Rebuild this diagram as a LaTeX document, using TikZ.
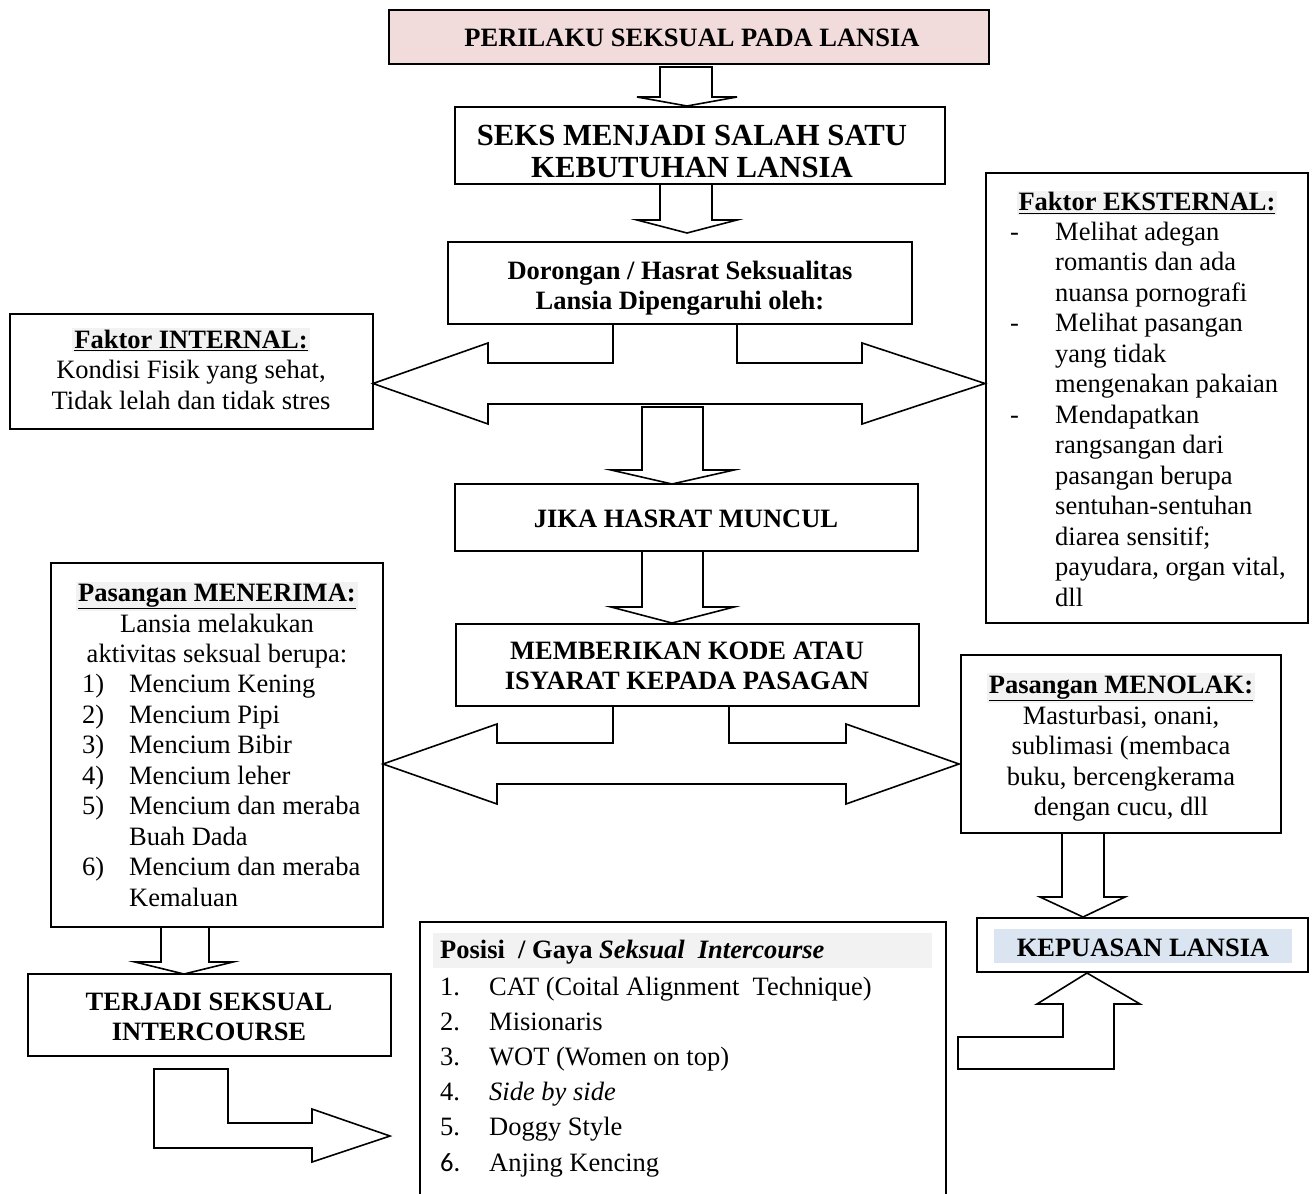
\documentclass[tikz,border=0pt]{standalone}
\usepackage{fontspec}
\setmainfont{Liberation Serif}
\newfontfamily\calibrifont{Carlito}
\usetikzlibrary{calc}
\definecolor{pinkfill}{HTML}{F2DCDB}
\definecolor{hlgray}{HTML}{F2F2F2}
\definecolor{hlblue}{HTML}{DBE5F1}
\newcommand{\hdrtext}[1]{{\setlength{\fboxsep}{2pt}\colorbox{hlgray}{\underline{\textbf{#1}}}}}
\begin{document}
\begin{tikzpicture}[x=1pt,y=-1pt,
  box/.style={draw=black, line width=1.6pt, fill=white, inner sep=0pt, outer sep=0pt, anchor=north west},
  barrow/.style={draw=black, line width=1.6pt, fill=white, line join=miter},
  txt/.style={inner sep=0pt, font=\fontsize{26.5}{30.5}\selectfont},
]
\useasboundingbox (0,0) rectangle (1316,1193);
\fill[white] (0,0) rectangle (1316,1193);

% ---------- boxes ----------
\node[box, fill=pinkfill, minimum width=600pt, minimum height=54pt] (title) at (389,10) {};
\node[box, minimum width=490pt, minimum height=77pt] (need) at (455,107) {};
\node[box, minimum width=464pt, minimum height=82pt] (drive) at (448,242) {};
\node[box, minimum width=363pt, minimum height=115pt] (internal) at (10,314) {};
\node[box, minimum width=322pt, minimum height=450pt] (external) at (986,173) {};
\node[box, minimum width=463pt, minimum height=67pt] (arise) at (455,484) {};
\node[box, minimum width=463pt, minimum height=82pt] (signal) at (456,624) {};
\node[box, minimum width=332pt, minimum height=364pt] (accept) at (51,563) {};
\node[box, minimum width=320pt, minimum height=178pt] (refuse) at (961,655) {};
\node[box, minimum width=363pt, minimum height=82pt] (inter) at (28,974) {};
\node[box, minimum width=331pt, minimum height=54pt] (satis) at (977,918) {};
\node[box, minimum width=526pt, minimum height=320pt] (pos) at (420,922) {};

% highlights
\fill[hlblue] (994,929) rectangle (1292,963);
\fill[hlgray] (433,933) rectangle (932,968);

% ---------- block arrows ----------
% title -> need
\draw[barrow] (660,67) -- (660,97) -- (637,97) -- (687,106) -- (737,97) -- (712,97) -- (712,67) -- cycle;
% need -> drive
\draw[barrow] (660,184) -- (660,220) -- (637,220) -- (687,233) -- (737,220) -- (712,220) -- (712,184) -- cycle;
% drive -> internal / external
\draw[barrow] (613,324) -- (613,363) -- (488,363) -- (488,343) -- (373,383.5) -- (488,424) -- (488,404)
  -- (862,404) -- (862,424) -- (985,383.5) -- (862,343) -- (862,363) -- (737,363) -- (737,324) -- cycle;
% -> arise
\draw[barrow] (642,407) -- (642,470) -- (611,470) -- (672,484) -- (734,470) -- (703,470) -- (703,407) -- cycle;
% arise -> signal
\draw[barrow] (642,551) -- (642,607) -- (611,607) -- (672,623) -- (734,607) -- (703,607) -- (703,551) -- cycle;
% signal -> accept / refuse
\draw[barrow] (613,706) -- (613,743) -- (497,743) -- (497,724) -- (383,764) -- (497,804) -- (497,784)
  -- (846,784) -- (846,804) -- (959,764) -- (846,724) -- (846,743) -- (729,743) -- (729,706) -- cycle;
% accept -> inter
\draw[barrow] (161,927) -- (161,962) -- (135,962) -- (184,974) -- (233,962) -- (209,962) -- (209,927) -- cycle;
% refuse -> satis
\draw[barrow] (1062,833) -- (1062,897) -- (1040,897) -- (1083,917) -- (1125,897) -- (1104,897) -- (1104,833) -- cycle;
% inter -> pos (bent)
\draw[barrow] (154,1069) -- (228,1069) -- (228,1123) -- (312,1123) -- (312,1109) -- (390,1136)
  -- (312,1162) -- (312,1148) -- (154,1148) -- cycle;
% pos -> satis (bent up)
\draw[barrow] (1087,973) -- (1140,1004) -- (1114,1004) -- (1114,1069) -- (958,1069) -- (958,1037)
  -- (1063,1037) -- (1063,1004) -- (1037,1004) -- cycle;

% ---------- texts ----------
\node[txt, anchor=base] (titleT) at (692,47) {\textbf{PERILAKU SEKSUAL PADA LANSIA}};
\node[inner sep=0pt, font=\fontsize{30.7}{31.5}\selectfont, anchor=base] (needT) at (692,146)
  {\begin{tabular}[t]{@{}c@{}}\textbf{SEKS MENJADI SALAH SATU}\\\textbf{KEBUTUHAN LANSIA}\end{tabular}};
\node[txt, anchor=base] (driveT) at (680,279)
  {\begin{tabular}[t]{@{}c@{}}\textbf{Dorongan / Hasrat Seksualitas}\\\textbf{Lansia Dipengaruhi oleh:}\end{tabular}};
\node[txt, anchor=base] (internalT) at (191,348)
  {\begin{tabular}[t]{@{}c@{}}\hdrtext{Faktor INTERNAL:}\\Kondisi Fisik yang sehat,\\Tidak lelah dan tidak stres\end{tabular}};
\node[txt, anchor=base] (externalH) at (1147,211) {\hdrtext{Faktor EKSTERNAL:}};
\node[txt, anchor=base west] (externalL) at (1010,240)
  {\begin{tabular}[t]{@{}p{45pt}@{}l@{}}
  -&Melihat adegan\\
  &romantis dan ada\\
  &nuansa pornografi\\
  -&Melihat pasangan\\
  &yang tidak\\
  &mengenakan pakaian\\
  -&Mendapatkan\\
  &rangsangan dari\\
  &pasangan berupa\\
  &sentuhan-sentuhan\\
  &diarea sensitif;\\
  &payudara, organ vital,\\
  &dll
  \end{tabular}};
\node[txt, anchor=base] (ariseT) at (686,527) {\textbf{JIKA HASRAT MUNCUL}};
\node[txt, anchor=base] (signalT) at (687,659)
  {\begin{tabular}[t]{@{}c@{}}\textbf{MEMBERIKAN KODE ATAU}\\\textbf{ISYARAT KEPADA PASAGAN}\end{tabular}};
\node[txt, anchor=base] (acceptT) at (217,601)
  {\begin{tabular}[t]{@{}c@{}}\hdrtext{Pasangan MENERIMA:}\\Lansia melakukan\\aktivitas seksual berupa:\end{tabular}};
\node[txt, anchor=base west] (acceptL) at (82,692.5)
  {\begin{tabular}[t]{@{}p{47pt}@{}l@{}}
  1)&Mencium Kening\\
  2)&Mencium Pipi\\
  3)&Mencium Bibir\\
  4)&Mencium leher\\
  5)&Mencium dan meraba\\
  &Buah Dada\\
  6)&Mencium dan meraba\\
  &Kemaluan
  \end{tabular}};
\node[txt, anchor=base] (refuseT) at (1121,693)
  {\begin{tabular}[t]{@{}c@{}}\hdrtext{Pasangan MENOLAK:}\\Masturbasi, onani,\\sublimasi (membaca\\buku, bercengkerama\\dengan cucu, dll\end{tabular}};
\node[txt, anchor=base] (interT) at (209,1010)
  {\begin{tabular}[t]{@{}c@{}}\textbf{TERJADI SEKSUAL}\\\textbf{INTERCOURSE}\end{tabular}};
\node[txt, anchor=base] (satisT) at (1143,956) {\textbf{KEPUASAN LANSIA}};
\node[txt, anchor=base west] (posH) at (440,958) {\textbf{Posisi\ \ / Gaya \textit{Seksual\ \ Intercourse}}};
\node[inner sep=0pt, font=\fontsize{26.5}{35.2}\selectfont, anchor=base west] (posL) at (440,995)
  {\begin{tabular}[t]{@{}p{49pt}@{}l@{}}
  1.&CAT (Coital Alignment\ \ Technique)\\
  2.&Misionaris\\
  3.&WOT (Women on top)\\
  4.&\textit{Side by side}\\
  5.&Doggy Style\\
  {\calibrifont 6.}&Anjing Kencing
  \end{tabular}};
\end{tikzpicture}
\end{document}
